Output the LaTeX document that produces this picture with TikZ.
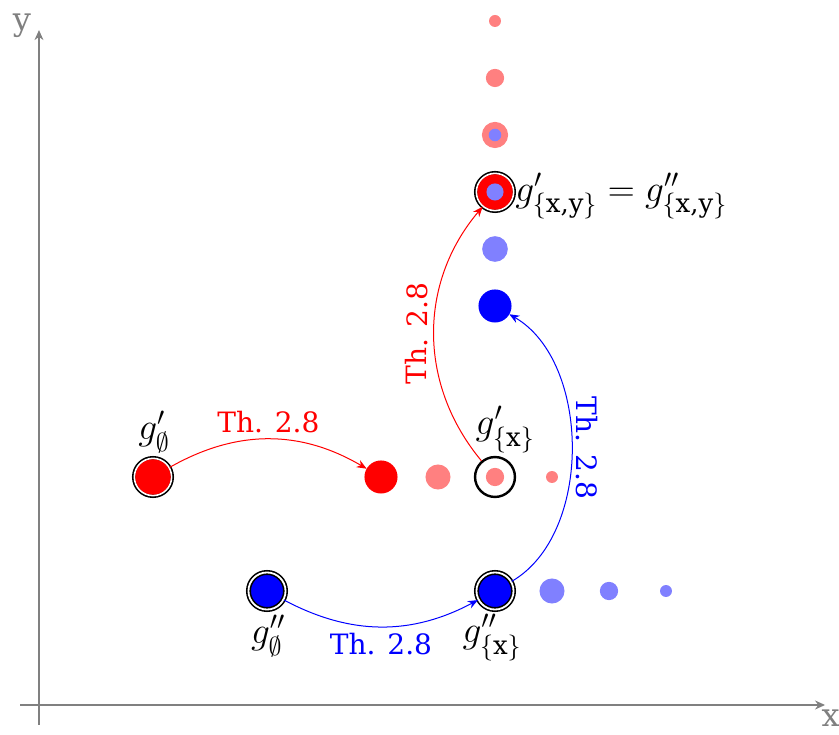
\documentclass[tikz,border=0pt]{standalone}
\usepackage{amsmath}
\usepackage{fontspec}
\setmainfont{DejaVu Serif}
\usetikzlibrary{arrows.meta}
\definecolor{lred}{RGB}{255,128,128}
\definecolor{lblue}{RGB}{128,128,255}
\definecolor{axgray}{RGB}{128,128,128}
\newcommand{\glab}[1]{\scalebox{1.08}{$#1$}}
\begin{document}
\begin{tikzpicture}[
  dotn/.style={circle, inner sep=0pt, outer sep=0pt, minimum size=#1},
  ringd/.style={circle, inner sep=0pt, minimum size=0.65cm, draw=black, line width=0.8pt, double=white, double distance=0.9pt},
  rings/.style={circle, inner sep=0pt, minimum size=0.70cm, draw=black, line width=1.2pt},
  thl/.style={font=\fontsize{14}{17}\selectfont, inner sep=3pt},
  gl/.style={font=\fontsize{17.28}{20}\selectfont, inner sep=0pt},
  axl/.style={font=\fontsize{16}{19}\selectfont, text=axgray, inner sep=0pt},
  axln/.style={draw=axgray, line width=0.6pt, -{Stealth[length=5pt,width=4.5pt]}},
  arr/.style={line width=0.5pt, -{Stealth[length=5pt,width=4pt]}}
]
\useasboundingbox (-2.684,-4.509) rectangle (12.035,8.368);

% axes
\coordinate (xs) at (-2.33,-4);
\coordinate (xe) at (11.79,-4);
\coordinate (ys) at (-2,-4.35);
\coordinate (ye) at (-2,7.84);
\draw[axln] (xs) -- (xe);
\draw[axln] (ys) -- (ye);
\node[axl, anchor=base] (xl) at (11.89,-4.38) {x};
\node[axl, anchor=base] (yl) at (-2.30,7.84) {y};

% red row
\node[ringd] (g0p) at (0,0) {};
\node[dotn=0.62cm, fill=red] (r0) at (0,0) {};
\node[dotn=0.58cm, fill=red] (r4) at (4,0) {};
\node[dotn=0.44cm, fill=lred] (r5) at (5,0) {};
\node[dotn=0.32cm, fill=lred] (r6) at (6,0) {};
\node[dotn=0.21cm, fill=lred] (r7) at (7,0) {};
\node[rings] (gxp) at (6,0) {};

% red / blue column
\node[ringd] (gxy) at (6,5) {};
\node[dotn=0.62cm, fill=red] (c5) at (6,5) {};
\node[dotn=0.30cm, fill=lblue] (d5) at (6,5) {};
\node[dotn=0.46cm, fill=lred] (c6) at (6,6) {};
\node[dotn=0.22cm, fill=lblue] (d6) at (6,6) {};
\node[dotn=0.32cm, fill=lred] (c7) at (6,7) {};
\node[dotn=0.21cm, fill=lred] (c8) at (6,8) {};
\node[dotn=0.58cm, fill=blue] (b3) at (6,3) {};
\node[dotn=0.45cm, fill=lblue] (b4) at (6,4) {};

% blue row
\node[dotn=0.58cm, fill=blue] (b0) at (2,-2) {};
\node[ringd] (g0pp) at (2,-2) {};
\node[dotn=0.58cm, fill=blue] (b6) at (6,-2) {};
\node[ringd] (gxpp) at (6,-2) {};
\node[dotn=0.44cm, fill=lblue] (b7) at (7,-2) {};
\node[dotn=0.32cm, fill=lblue] (b8) at (8,-2) {};
\node[dotn=0.21cm, fill=lblue] (b9) at (9,-2) {};

% labels
\node[gl, anchor=south] (l0p) at (0.02,0.42) {\glab{g'_\emptyset}};
\node[gl, anchor=north] (l0pp) at (2.02,-2.42) {\glab{g''_\emptyset}};
\node[gl, anchor=south] (lxp) at (6.18,0.42) {\glab{g'_{\{\text{x}\}}}};
\node[gl, anchor=north] (lxpp) at (5.95,-2.40) {\glab{g''_{\{\text{x}\}}}};
\node[gl, anchor=base west] (lxy) at (6.35,4.84) {\glab{g'_{\{\text{x,y}\}} = g''_{\{\text{x,y}\}}}};

% arrows
\draw[arr, red] (g0p) to[bend left=30] node[midway, above, thl, text=red] (t1) {Th. 2.8} (r4);
\draw[arr, blue] (g0pp) to[bend right=28] node[midway, below, thl, text=blue] (t2) {Th. 2.8} (gxpp);
\draw[arr, red] (gxp) to[bend left=40] node[midway, sloped, above, thl, text=red] (t3) {Th. 2.8} (gxy);
\draw[arr, blue] (gxpp) to[out=30, in=-30, looseness=0.9] node[midway, rotate=-90, anchor=south, thl, inner sep=2pt, text=blue] (t4) {Th. 2.8} (b3);
\end{tikzpicture}
\end{document}
